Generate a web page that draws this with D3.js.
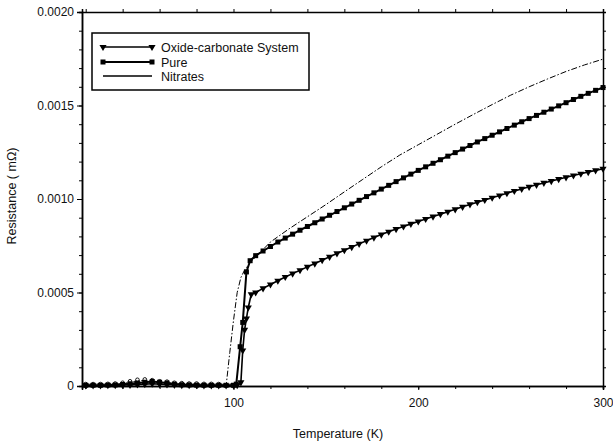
<!DOCTYPE html>
<html><head><meta charset="utf-8">
<script src="https://cdn.jsdelivr.net/npm/d3@7"></script>
<style>body{margin:0;background:#fff}svg{display:block}text{font-family:"Liberation Sans",Arial,sans-serif}</style>
</head><body>
<svg id="c" width="613" height="447"></svg>
<script>
// ---- data ----
const seriesNames = ["Oxide-carbonate System", "Pure", "Nitrates"];
const xTicks = [100, 200, 300];
const yTicks = [0, 0.0005, 0.0010, 0.0015, 0.0020];
const yTickLabels = ["0", "0.0005", "0.0010", "0.0015", "0.0020"];

const oxideT = [20,24,28,32,36,40,44,48,52,56,60,64,68,72,76,80,84,88,92,96,100,102,104,105,106,107,108,109.6,
  112,116,120,124,128,132,136,140,144,148,152,156,160,164,168,172,176,180,184,188,192,196,200,204,208,212,216,220,224,228,232,236,240,244,248,252,256,260,264,268,272,276,280,284,288,292,296,300];
const oxideR = [0.000003,0.000003,0.000003,0.000004,0.000004,0.000005,0.000006,0.000008,0.00001,0.000012,0.00001,0.000008,0.000006,0.000005,0.000004,0.000004,0.000003,0.000003,0.000003,0.000003,0.000003,0.000004,0.00002,0.00019,0.00030,0.00036,0.00042,0.00049,
  0.000500,0.000522,0.000543,0.000563,0.000583,0.000601,0.000619,0.000637,0.000655,0.000673,0.000691,0.000709,0.000726,0.000743,0.000760,0.000777,0.000794,0.000810,0.000825,0.000839,0.000853,0.000867,0.000880,0.000893,0.000906,0.000919,0.000932,0.000945,0.000958,0.000971,0.000983,0.000995,0.001007,0.001019,0.001031,0.001043,0.001054,0.001065,0.001076,0.001086,0.001096,0.001106,0.001116,0.001126,0.001135,0.001144,0.001153,0.001162];

const pureT = [20,24,28,32,36,40,44,48,52,56,60,64,68,72,76,80,84,88,92,96,100,101.5,103.6,105,107,109,
  112,116,120,124,128,132,136,140,144,148,152,156,160,164,168,172,176,180,184,188,192,196,200,204,208,212,216,220,224,228,232,236,240,244,248,252,256,260,264,268,272,276,280,284,288,292,296,300];
const pureR = [0.000004,0.000004,0.000004,0.000005,0.000006,0.000008,0.000012,0.000016,0.00002,0.000024,0.00002,0.000016,0.00001,0.000007,0.000006,0.000005,0.000004,0.000004,0.000004,0.000004,0.000004,0.00001,0.00021,0.00034,0.00061,0.00067,
  0.000697,0.000722,0.000746,0.000770,0.000791,0.000812,0.000833,0.000853,0.000873,0.000893,0.000913,0.000933,0.000953,0.000973,0.000993,0.001013,0.001033,0.001053,0.001073,0.001093,0.001113,0.001133,0.001153,0.001172,0.001191,0.001210,0.001229,0.001248,0.001267,0.001286,0.001305,0.001323,0.001341,0.001359,0.001377,0.001395,0.001413,0.001430,0.001447,0.001464,0.001481,0.001498,0.001515,0.001532,0.001549,0.001565,0.001581,0.001596];

const nitrT = [20,24,28,32,36,40,44,48,52,56,60,64,68,72,76,80,84,88,92,95,96,98,100,102,104,106,109,112,116,120,130,140,150,160,170,180,190,200,210,220,230,240,250,260,270,280,290,300];
const nitrR = [0.000005,0.000005,0.000005,0.000006,0.000008,0.000012,0.00002,0.000028,0.00003,0.000026,0.00002,0.000018,0.000012,0.00001,0.000008,0.000008,0.000006,0.000006,0.000005,0.000005,0.00000,0.00018,0.00035,0.00050,0.00058,0.00062,0.00066,0.00069,0.00073,0.00077,0.000840,0.000905,0.00097,0.001038,0.001105,0.001172,0.001235,0.00129,0.001345,0.0014,0.001453,0.001505,0.001555,0.0016,0.001642,0.001682,0.001717,0.001748];

// ---- chart ----
const svg = d3.select("#c");
const L = 82, R = 603, T = 12, B = 386;
const x = d3.scaleLinear().domain([18, 300]).range([L, R]);
const y = d3.scaleLinear().domain([0, 0.002]).range([B, T]);

const zip = (a, b) => a.map((t, i) => [t, b[i]]);
const oxide = zip(oxideT, oxideR), pure = zip(pureT, pureR), nitr = zip(nitrT, nitrR);
const line = d3.line().x(d => x(d[0])).y(d => y(d[1]));

const xMinor = d3.range(20, 301, 20);
const yMinor = d3.range(0, 0.00201, 0.0001);

// axes
const fmtNone = () => "";
svg.append("g").attr("transform", `translate(0,${B})`)
  .call(d3.axisBottom(x).tickValues(xMinor).tickSize(3).tickFormat(fmtNone));
svg.append("g").attr("transform", `translate(0,${B})`)
  .call(d3.axisBottom(x).tickValues(xTicks).tickSize(4).tickPadding(8).tickFormat(d3.format("d")));
svg.append("g").attr("transform", `translate(0,${T})`)
  .call(d3.axisTop(x).tickValues(xMinor).tickSize(3).tickFormat(fmtNone));
svg.append("g").attr("transform", `translate(${L},0)`)
  .call(d3.axisLeft(y).tickValues(yMinor).tickSize(3).tickFormat(fmtNone));
svg.append("g").attr("transform", `translate(${L},0)`)
  .call(d3.axisLeft(y).tickValues(yTicks).tickSize(5).tickPadding(3).tickFormat((d, i) => yTickLabels[i]));
svg.append("g").attr("transform", `translate(${R},0)`)
  .call(d3.axisRight(y).tickValues(yMinor).tickSize(3).tickFormat(fmtNone));
svg.selectAll(".domain").attr("stroke", "#000").attr("stroke-width", 1.5);
svg.selectAll(".tick line").attr("stroke", "#000");
svg.selectAll(".tick text").attr("font-size", 12).attr("fill", "#111").style("font-family", '"Liberation Sans",Arial,sans-serif');

// series
const g = svg.append("g");
g.append("path").datum(nitr.filter(d => d[0] >= 95)).attr("d", line)
  .attr("fill", "none").attr("stroke", "#000").attr("stroke-width", 1).attr("stroke-dasharray", "6,2,1.5,2");
g.append("path").datum(nitr.filter(d => d[0] <= 96)).attr("d", line)
  .attr("fill", "none").attr("stroke", "#000").attr("stroke-width", 1).attr("stroke-dasharray", "2,2");
g.selectAll(".nc").data(nitr.filter(d => d[0] < 95)).join("circle")
  .attr("cx", d => x(d[0])).attr("cy", d => y(d[1]) - 1).attr("r", 1.8)
  .attr("fill", "#fff").attr("stroke", "#000").attr("stroke-width", 0.9);

g.append("path").datum(pure).attr("d", line)
  .attr("fill", "none").attr("stroke", "#000").attr("stroke-width", 2);
g.selectAll(".ps").data(pure).join("rect")
  .attr("x", d => x(d[0]) - 2.5).attr("y", d => y(d[1]) - 2.5).attr("width", 5).attr("height", 5).attr("fill", "#000");

g.append("path").datum(oxide).attr("d", line)
  .attr("fill", "none").attr("stroke", "#000").attr("stroke-width", 1.6);
const tri = d3.symbol().type(d3.symbolTriangle).size(22);
g.selectAll(".ot").data(oxide).join("path")
  .attr("d", tri).attr("transform", d => `translate(${x(d[0])},${y(d[1])}) rotate(180)`).attr("fill", "#000");

// legend
const lg = svg.append("g");
lg.append("rect").attr("x", 92).attr("y", 33).attr("width", 217).attr("height", 57)
  .attr("fill", "#fff").attr("stroke", "#000").attr("stroke-width", 1.5);
const rows = [47, 62, 76];
const lx1 = 103, lx2 = 152;
rows.forEach((ry, i) => {
  lg.append("line").attr("x1", lx1).attr("x2", lx2).attr("y1", ry).attr("y2", ry)
    .attr("stroke", "#000").attr("stroke-width", i === 1 ? 2 : 1.5);
  if (i === 0) {
    [lx1, lx2].forEach(px => lg.append("path").attr("d", tri).attr("transform", `translate(${px},${ry}) rotate(180)`).attr("fill", "#000"));
  } else if (i === 1) {
    [lx1, lx2].forEach(px => lg.append("rect").attr("x", px - 2.5).attr("y", ry - 2.5).attr("width", 5).attr("height", 5).attr("fill", "#000"));
  }
  lg.append("text").attr("x", 161).attr("y", ry + 4.5).attr("font-size", 12.5).attr("fill", "#111").text(seriesNames[i]);
});

// axis titles
svg.append("text").attr("x", 338).attr("y", 438).attr("text-anchor", "middle").attr("font-size", 12.5).attr("fill", "#111").text("Temperature (K)");
svg.append("text").attr("transform", "translate(16,196) rotate(-90)").attr("text-anchor", "middle").attr("font-size", 12.5).attr("fill", "#111").text("Resistance ( mΩ)");
</script>
</body></html>
